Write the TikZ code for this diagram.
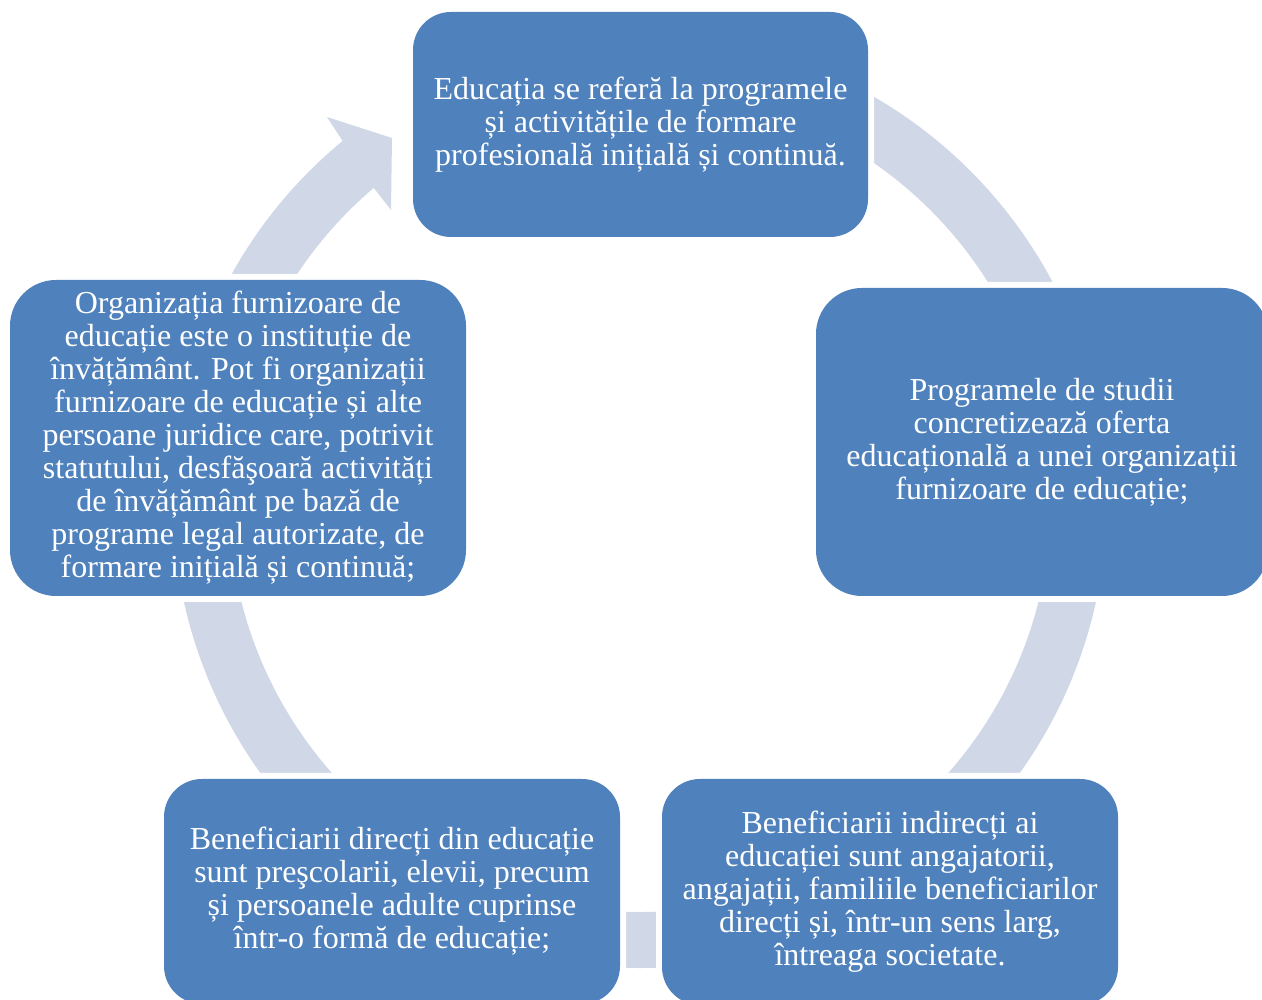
\documentclass[tikz,border=0pt]{standalone}
\usepackage{fontspec}
\setmainfont{Liberation Serif}
\definecolor{boxblue}{HTML}{4F81BD}
\definecolor{ringgray}{HTML}{D0D8E8}

\begin{document}
\begin{tikzpicture}[
x=1pt, y=1pt,
box/.style={rectangle, fill=boxblue, text=white, align=center, inner sep=0pt,
  font=\fontsize{32}{33}\selectfont, preaction={draw=white, line width=12pt}},
ring/.style={draw=ringgray, line width=56pt},
head/.style={fill=ringgray}
]
\useasboundingbox (0,0) rectangle (1262,1000);
\coordinate (ctr) at (640,499);

% cycle ring and the arrow head pointing to the top box
\draw[ring] (ctr) ++(128:439pt) arc[start angle=128, end angle=460, radius=439pt];
\fill[head] (342,860) -- (327,883) -- (392,862) -- (391,790) -- (373,813) -- cycle;

\node[box, minimum width=455pt, minimum height=225pt, rounded corners=38pt] (edu) at (640.5,875.5)
  {Educația se referă la programele\\și activitățile de formare\\profesională inițială și continuă.};
\node[box, minimum width=452pt, minimum height=308pt, rounded corners=46pt] (prog) at (1042,558)
  {Programele de studii\\concretizează oferta\\educațională a unei organizații\\furnizoare de educație;};
\node[box, minimum width=456pt, minimum height=226pt, rounded corners=38pt] (benind) at (890,108)
  {Beneficiarii indirecți ai\\educației sunt angajatorii,\\angajații, familiile beneficiarilor\\direcți și, într-un sens larg,\\întreaga societate.};
\node[box, minimum width=456pt, minimum height=225pt, rounded corners=38pt] (bendir) at (392,108.5)
  {Beneficiarii direcți din educație\\sunt preşcolarii, elevii, precum\\și persoanele adulte cuprinse\\într-o formă de educație;};
\node[box, minimum width=456pt, minimum height=316pt, rounded corners=46pt] (org) at (238,562)
  {Organizația furnizoare de\\educație este o instituție de\\învățământ. Pot fi organizații\\furnizoare de educație și alte\\persoane juridice care, potrivit\\statutului, desfăşoară activități\\de învățământ pe bază de\\programe legal autorizate, de\\formare inițială și continuă;};

\end{tikzpicture}
\end{document}
